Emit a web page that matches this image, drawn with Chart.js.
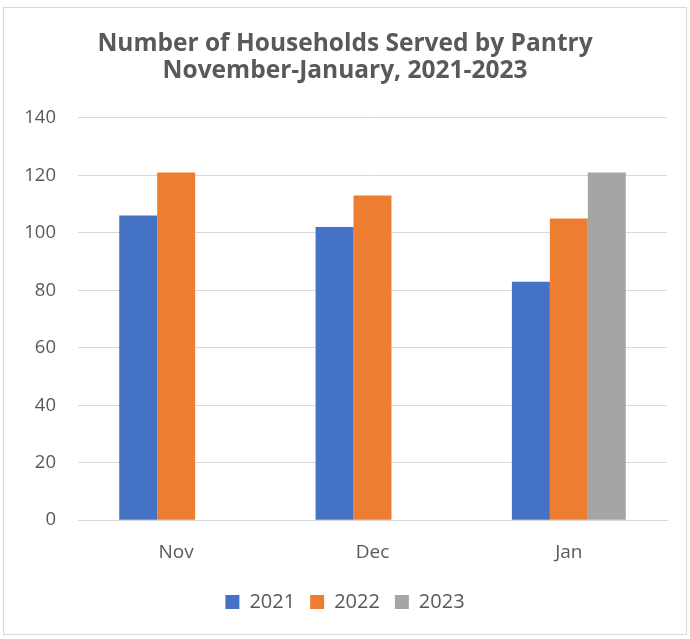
<!DOCTYPE html>
<html>
<head>
<meta charset="utf-8">
<script src="https://cdn.jsdelivr.net/npm/chart.js@4/dist/chart.umd.min.js"></script>
<style>
    body { margin: 0; background: #fff; }
    #box {
        position: absolute; left: 3px; top: 7px;
        width: 684px; height: 628px;
        border: 1px solid #d9d9d9; box-sizing: border-box;
    }
</style>
</head>
<body>
<div id="box"><canvas id="pantryChart"></canvas></div>
<script>
// chart values
const months = ['Nov', 'Dec', 'Jan'];
const years = ['2021', '2022', '2023'];
const served2021 = [106, 102, 83];
const served2022 = [121, 113, 105];
const served2023 = [null, null, 121];
const yTicks = [0, 20, 40, 60, 80, 100, 120, 140];

const colors = ['#4472C4', '#ED7D31', '#A5A5A5'];
const font = "'Open Sans', 'DejaVu Sans', sans-serif";

document.addEventListener("DOMContentLoaded", function () {
    const ctx = document.getElementById('pantryChart').getContext('2d');
    new Chart(ctx, {
        type: 'bar',
        data: {
            labels: months,
            datasets: [served2021, served2022, served2023].map((vals, i) => ({
                label: years[i],
                data: vals,
                backgroundColor: colors[i],
                categoryPercentage: 0.58,
                barPercentage: 1.0,
            })),
        },
        options: {
            responsive: true,
            maintainAspectRatio: false,
            animation: false,
            layout: { padding: { left: 0, right: 0, top: 0, bottom: 12 } },
            plugins: {
                title: {
                    display: true,
                    text: ['Number of Households Served by Pantry', 'November-January, 2021-2023'],
                    color: '#595959',
                    font: { family: font, size: 24.5, weight: 'bold', lineHeight: 1.12 },
                    padding: { top: 22, bottom: 33 },
                },
                legend: {
                    position: 'bottom',
                    labels: {
                        color: '#595959',
                        font: { family: font, size: 20 },
                        boxWidth: 14,
                        boxHeight: 14,
                        padding: 15,
                    },
                },
                tooltip: { enabled: false },
            },
            scales: {
                x: {
                    grid: { display: false },
                    border: { display: true, color: '#d9d9d9' },
                    ticks: { color: '#595959', font: { family: font, size: 19 }, padding: 13 },
                },
                y: {
                    min: 0,
                    max: 140,
                    afterFit: (s) => { s.width = 74; },
                    afterBuildTicks: (s) => { s.ticks = yTicks.map(v => ({ value: v })); },
                    grid: { color: '#d9d9d9', drawTicks: false, lineWidth: 1 },
                    border: { display: false },
                    ticks: { color: '#595959', font: { family: font, size: 18.5 }, padding: 22 },
                },
                // empty right gutter so the title stays centred on the whole box
                gutter: {
                    position: 'right',
                    afterFit: (s) => { s.width = 19; },
                    grid: { display: false },
                    border: { display: false },
                    ticks: { display: false },
                },
            },
        },
    });
});
</script>
</body>
</html>
